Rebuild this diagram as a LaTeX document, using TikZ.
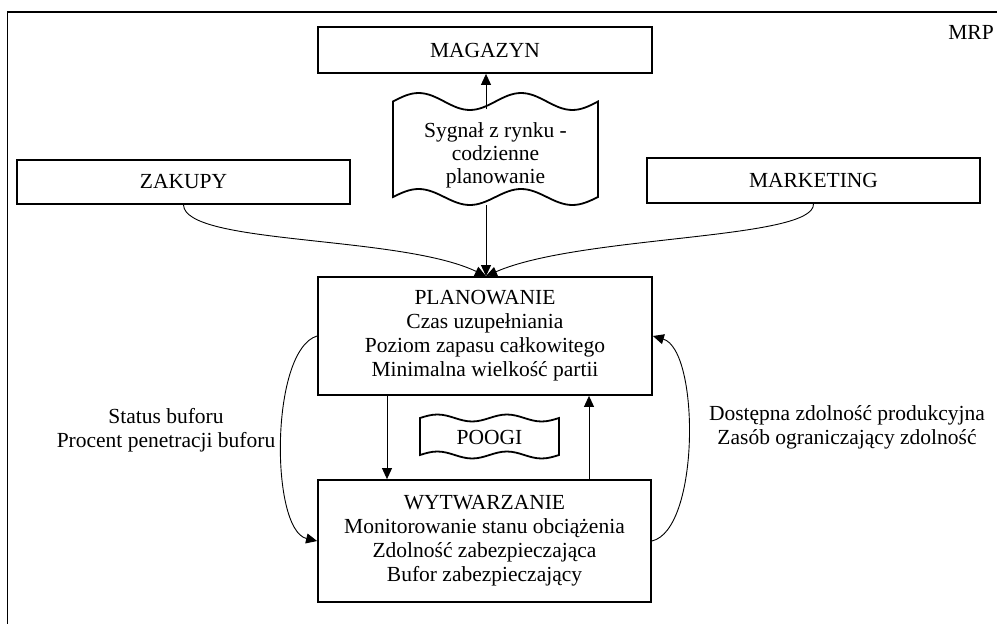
\documentclass[tikz,border=0pt]{standalone}
\usepackage{fontspec}
\setmainfont{Liberation Serif}
\usetikzlibrary{arrows.meta}
\tikzset{
  box/.style={draw, line width=1.8pt, rectangle, inner sep=0pt, align=center, font=\fontsize{21.5}{24}\selectfont},
  lbl/.style={align=center, inner sep=0pt, font=\fontsize{21.5}{24}\selectfont},
  conn/.style={line width=0.9pt, -{Triangle[length=11pt,width=10pt]}},
  wave/.style={draw, line width=1.8pt, fill=white}
}
\begin{document}
\begin{tikzpicture}[x=1pt,y=-1pt]
\useasboundingbox (0,0) rectangle (997,624);
\clip (0,0) rectangle (997,624);
% outer frame
\draw[line width=1.6pt] (7.5,12) rectangle (1010,640);
\node[lbl] (mrp) at (971,32) {MRP};
% boxes
\node[box, minimum width=334pt, minimum height=46pt] (mag) at (485,50) {MAGAZYN};
\node[box, minimum width=333pt, minimum height=44pt] (zak) at (183.5,182) {ZAKUPY};
\node[box, minimum width=333pt, minimum height=45pt] (mkt) at (813.5,180.5) {MARKETING};
\node[box, minimum width=334pt, minimum height=118pt] (plan) at (485,336)
  {PLANOWANIE\\Czas uzupełniania\\Poziom zapasu całkowitego\\Minimalna wielkość partii};
\node[box, minimum width=333pt, minimum height=122pt] (wyt) at (484.5,541)
  {WYTWARZANIE\\Monitorowanie stanu obciążenia\\Zdolność zabezpieczająca\\Bufor zabezpieczający};
% wavy box: Sygnal
\path[wave] (393,101.5) sin (418.6,93) cos (444.25,101.5) sin (469.9,110) cos (495.5,101.5)
  sin (521.1,93) cos (546.75,101.5) sin (572.4,110) cos (598,101.5)
  -- (598,197) sin (572.4,205) cos (546.75,197) sin (521.1,189) cos (495.5,197)
  sin (469.9,205) cos (444.25,197) sin (418.6,189) cos (393,197) -- cycle;
\node[lbl, font=\fontsize{21.5}{23}\selectfont] (syg) at (495.5,155) {Sygnał z rynku -\\codzienne\\planowanie};
\coordinate (sigtop) at (486,109);
\coordinate (sigbot) at (486,205);
% wavy box: POOGI
\path[wave] (420,418) sin (437.4,414.5) cos (454.75,418) sin (472.1,421.5) cos (489.5,418)
  sin (506.9,414.5) cos (524.25,418) sin (541.6,421.5) cos (559,418)
  -- (559,455) sin (541.6,458.5) cos (524.25,455) sin (506.9,451.5) cos (489.5,455)
  sin (472.1,458.5) cos (454.75,455) sin (437.4,451.5) cos (420,455) -- cycle;
\node[lbl] (poogi) at (489.5,437) {POOGI};
% labels
\node[lbl] (stat) at (166,430) {Status buforu\\Procent penetracji buforu};
\node[lbl] (dost) at (847,427) {Dostępna zdolność produkcyjna\\Zasób ograniczający zdolność};
% connectors
\draw[conn] (sigtop) -- (sigtop |- mag.south);
\draw[conn] (sigbot) -- (sigbot |- plan.north);
\draw[conn] (zak.south) .. controls (185,245) and (400,235) .. (sigbot |- plan.north);
\draw[conn] (mkt.south) .. controls (815,240) and (580,235) .. (sigbot |- plan.north);
\coordinate (dnx) at (387,0);
\coordinate (upx) at (589,0);
\draw[conn] (dnx |- plan.south) -- (dnx |- wyt.north);
\draw[conn] (upx |- wyt.north) -- (upx |- plan.south);
\draw[conn] (plan.west) .. controls (270,350) and (270,530) .. (wyt.west);
\draw[conn] (wyt.east) .. controls (700,530) and (700,350) .. (plan.east);
\end{tikzpicture}
\end{document}
